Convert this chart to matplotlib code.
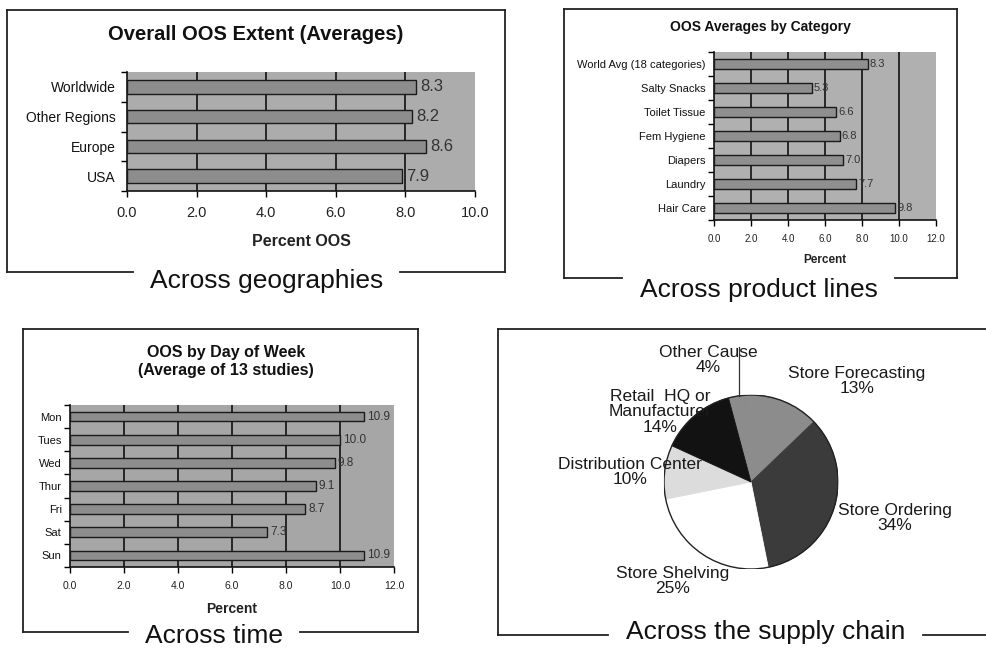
import matplotlib
matplotlib.use("Agg")
import matplotlib.pyplot as plt
from matplotlib.lines import Line2D
from matplotlib.patches import Circle
import numpy as np

plt.rcParams['font.family'] = ['Liberation Sans', 'DejaVu Sans']

W, H = 987, 648

# ---- data -------------------------------------------------------------
geo_regions = ["Worldwide", "Other Regions", "Europe", "USA"]
geo_oos = [8.3, 8.2, 8.6, 7.9]

cat_names = ["World Avg (18 categories)", "Salty Snacks", "Toilet Tissue",
             "Fem Hygiene", "Diapers", "Laundry", "Hair Care"]
cat_oos = [8.3, 5.3, 6.6, 6.8, 7.0, 7.7, 9.8]

day_names = ["Mon", "Tues", "Wed", "Thur", "Fri", "Sat", "Sun"]
day_oos = [10.9, 10.0, 9.8, 9.1, 8.7, 7.3, 10.9]

cause_names = ["Other Cause", "Store Forecasting", "Store Ordering",
               "Store Shelving", "Distribution Center", "Retail  HQ or\nManufacturer"]
cause_share = [4, 13, 34, 25, 10, 14]
cause_colors = ["#8c8c8c", "#8c8c8c", "#3b3b3b", "#ffffff", "#dcdcdc", "#121212"]

fig = plt.figure(figsize=(W / 100, H / 100), dpi=100)
fig.patch.set_facecolor("white")


def rect(x0, y0, x1, y1):
    return [x0 / W, 1 - y1 / H, (x1 - x0) / W, (y1 - y0) / H]


def fx(x):
    return x / W


def fy(y):
    return 1 - y / H


def frame(x0, y0, x1, y1, gap0, gap1, caption, cy, right=True):
    segs = [((x0, y0), (x1, y0)), ((x0, y0), (x0, y1)),
            ((x0, y1), (gap0, y1)), ((gap1, y1), (x1, y1))]
    if right:
        segs.append(((x1, y0), (x1, y1)))
    for a, b in segs:
        fig.add_artist(Line2D([fx(a[0]), fx(b[0])], [fy(a[1]), fy(b[1])],
                              color="#222222", lw=1.3, transform=fig.transFigure))
    fig.text(fx((gap0 + gap1) / 2), fy(cy), caption, ha="center", va="center",
             fontsize=19, color="#111111")


def bar_panel(box, names, vals, xmax, bar_h, bg, barc, fs_tick, fs_xt,
              fs_val, fs_xl, xlabel, val_pad, ypad, xpad, lpad):
    ax = fig.add_axes(rect(*box))
    ax.set_facecolor(bg)
    y = np.arange(len(names))
    ax.barh(y, vals, height=bar_h, color=barc, edgecolor="#1a1a1a",
            lw=1.0, zorder=3)
    ax.set_xlim(0, xmax)
    ax.set_ylim(len(names) - 0.5, -0.5)
    ticks = np.arange(0, xmax + 0.01, 2)
    for t in ticks[1:-1]:
        ax.axvline(t, color="#111111", lw=1.2, zorder=2)
    ax.set_xticks(ticks)
    ax.set_xticklabels([f"{t:.1f}" for t in ticks], fontsize=fs_xt, color="#222222")
    ax.set_yticks(y)
    ax.set_yticklabels(names, fontsize=fs_tick, color="#111111")
    ax.set_yticks(np.arange(len(names) + 1) - 0.5, minor=True)
    ax.tick_params(axis="y", which="major", length=0, pad=ypad)
    ax.tick_params(axis="y", which="minor", length=4, width=1.0, direction="out")
    ax.tick_params(axis="x", length=4, width=1.0, direction="out", pad=xpad)
    for s in ("top", "right"):
        ax.spines[s].set_visible(False)
    for s in ("left", "bottom"):
        ax.spines[s].set_color("#111111")
        ax.spines[s].set_linewidth(1.2)
    for i, v in enumerate(vals):
        ax.text(v + val_pad, i, f"{v:.1f}", va="center", ha="left",
                fontsize=fs_val, color="#333333", zorder=4)
    ax.set_xlabel(xlabel, fontsize=fs_xl, fontweight="bold", labelpad=lpad,
                  color="#222222")
    return ax


# ---- across geographies ------------------------------------------------
frame(7, 10, 505, 272, 133, 400, "Across geographies", 281)
fig.text(fx(256), fy(34), "Overall OOS Extent (Averages)", ha="center",
         va="center", fontsize=14.5, fontweight="bold", color="#111111")
bar_panel((127, 72, 475, 191), geo_regions, geo_oos, 10, 0.45, "#acacac",
          "#8d8d8d", 10, 10.5, 12, 11.5, "Percent OOS", 0.12, 8, 7, 10)

# ---- across product lines ----------------------------------------------
frame(564, 9, 957, 278, 622, 895, "Across product lines", 290)
fig.text(fx(760), fy(27), "OOS Averages by Category", ha="center",
         va="center", fontsize=10, fontweight="bold", color="#111111")
bar_panel((714, 52, 936, 220), cat_names, cat_oos, 12, 0.38, "#b0b0b0",
          "#8f8f8f", 8, 7, 8, 8.5, "Percent", 0.1, 6, 6, 7)

# ---- across time -------------------------------------------------------
frame(23, 329, 418, 632, 128, 300, "Across time", 636)
fig.text(fx(226), fy(362), "OOS by Day of Week\n(Average of 13 studies)",
         ha="center", va="center", fontsize=11.5, fontweight="bold",
         color="#111111", linespacing=1.25)
bar_panel((70, 405, 394, 567), day_names, day_oos, 12, 0.42, "#a6a6a6",
          "#8d8d8d", 8, 7.5, 8.5, 10, "Percent", 0.12, 6, 6, 8)

# ---- across the supply chain -------------------------------------------
frame(498, 329, 1000, 635, 608, 923, "Across the supply chain", 632, right=False)
cx, cy, r = 751, 482, 87
axp = fig.add_axes(rect(cx - r, cy - r, cx + r, cy + r))
wedges, _ = axp.pie(cause_share, colors=cause_colors, startangle=105,
                    counterclock=False, radius=1,
                    wedgeprops=dict(linewidth=0.6))
for w in wedges:
    w.set_edgecolor(w.get_facecolor())
axp.set_xlim(-1, 1)
axp.set_ylim(-1, 1)
axp.add_patch(Circle((0, 0), 1, fill=False, ec="#222222", lw=1.0))
axp.set_axis_off()

# leader line for the small slice
w0 = wedges[0]
mid = np.deg2rad((w0.theta1 + w0.theta2) / 2)
axp.plot([np.cos(mid), np.cos(mid)], [np.sin(mid), 1.55], color="#333333",
         lw=0.9, clip_on=False)

label_pos = [(708, 360), (857, 381), (895, 518), (673, 581), (630, 472), (660, 412)]
for name, share, (lx, ly) in zip(cause_names, cause_share, label_pos):
    fig.text(fx(lx), fy(ly), f"{name}\n{share}%", ha="center", va="center",
             fontsize=12.5, color="#1a1a1a", linespacing=1.0)

fig.savefig("out.png", dpi=100)
